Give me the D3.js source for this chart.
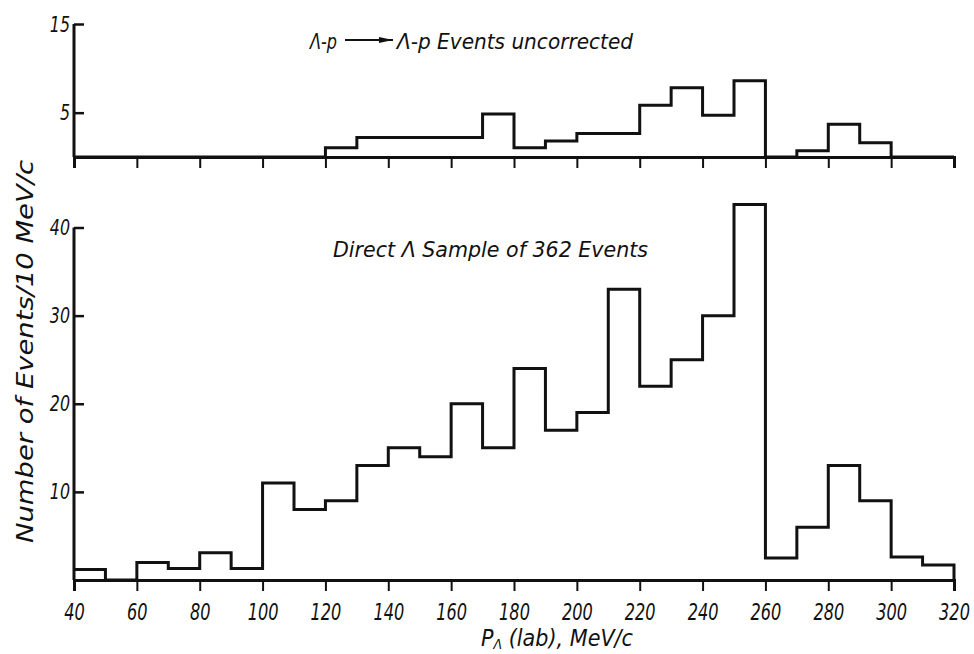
<!DOCTYPE html>
<html>
<head>
<meta http-equiv="Content-Type" content="text/html; charset=UTF-8">
<script src="https://d3js.org/d3.v7.min.js"></script>
<style>
  body { margin: 0; background: #fff; }
  svg text { font-family: "Liberation Sans Narrow", "DejaVu Sans Condensed", "Liberation Sans", sans-serif; font-style: italic; fill: #111; }
</style>
</head>
<body>
<div id="my_dataviz"></div>
<script>
// lower edge of every 10 MeV/c bin
var binStarts = [40, 50, 60, 70, 80, 90, 100, 110, 120, 130, 140, 150, 160, 170,
                 180, 190, 200, 210, 220, 230, 240, 250, 260, 270, 280, 290, 300, 310];
var binWidth = 10;
// Lambda-p -> Lambda-p events, uncorrected (upper panel)
var elasticCounts = [0, 0, 0, 0, 0, 0, 0, 0, 1.05, 2.2, 2.2, 2.2, 2.2, 4.85,
                     1.05, 1.8, 2.65, 2.65, 5.85, 7.8, 4.7, 8.6, 0, 0.7, 3.7, 1.6, 0, 0];
// direct Lambda sample, 362 events (lower panel)
var directCounts = [1.2, 0, 2, 1.3, 3.1, 1.3, 11, 8, 9, 13, 15, 14, 20, 15,
                    24, 17, 19, 33, 22, 25, 30, 42.6, 2.5, 6, 13, 9, 2.6, 1.7];
var xTicks = [40, 60, 80, 100, 120, 140, 160, 180, 200, 220, 240, 260, 280, 300, 320];
var topYTicks = [5, 15];
var bottomYTicks = [10, 20, 30, 40];

var width = 974, height = 654;
var svg = d3.select("#my_dataviz")
  .append("svg")
    .attr("width", width)
    .attr("height", height);

var x = d3.scaleLinear().domain([40, 320]).range([74, 954]);
var yTop = d3.scaleLinear().domain([0, 15]).range([157, 24]);
var yBot = d3.scaleLinear().domain([0, 40]).range([580, 227.5]);

var stroke = "#111", lw = 3;

// turn bins into step points
function steps(counts) {
  var pts = binStarts.map(function(b, i) { return [b, counts[i]]; });
  var last = binStarts.length - 1;
  pts.push([binStarts[last] + binWidth, counts[last]]);
  pts.push([binStarts[last] + binWidth, 0]);
  return pts;
}

function panel(y, counts, yTicks, showXLabels) {
  var g = svg.append("g");
  // x axis (baseline + downward ticks)
  var xAxis = g.append("g")
    .attr("transform", "translate(0," + y(0) + ")")
    .call(d3.axisBottom(x).tickValues(xTicks).tickSize(11).tickPadding(13)
      .tickFormat(showXLabels ? d3.format("d") : ""));
  xAxis.attr("font-family", null);
  xAxis.select(".domain").attr("stroke", stroke).attr("stroke-width", lw);
  xAxis.selectAll(".tick line").attr("stroke", stroke).attr("stroke-width", 2)
    .filter(function(d) { return d === 40; }).remove();
  // narrow lettering: squeeze horizontally around the tick
  xAxis.selectAll(".tick text").attr("font-size", 23).attr("fill", "#111")
    .attr("transform", "scale(0.78,1)");

  // y axis (ticks pointing inward)
  var yAxis = g.append("g")
    .attr("transform", "translate(" + x(40) + ",0)")
    .call(d3.axisRight(y).tickValues(yTicks).tickSize(10).tickSizeOuter(0).tickFormat(d3.format("d")));
  yAxis.attr("font-family", null);
  yAxis.select(".domain").attr("stroke", stroke).attr("stroke-width", lw)
    .attr("d", "M0," + y(0) + "V" + y(yTicks[yTicks.length - 1]));
  yAxis.selectAll(".tick line").attr("stroke", stroke).attr("stroke-width", 2.5);
  yAxis.selectAll(".tick text")
    .attr("x", -5).attr("text-anchor", "end").attr("font-size", 22).attr("fill", "#111")
    .attr("transform", "scale(0.8,1)");

  // histogram outline
  g.append("path")
    .datum(steps(counts))
    .attr("fill", "none")
    .attr("stroke", stroke)
    .attr("stroke-width", lw)
    .attr("stroke-linejoin", "miter")
    .attr("d", d3.line()
      .x(function(d) { return x(d[0]); })
      .y(function(d) { return y(d[1]); })
      .curve(d3.curveStepAfter));
}

panel(yTop, elasticCounts, topYTicks, false);
panel(yBot, directCounts, bottomYTicks, true);

// upper title with reaction arrow
svg.append("defs").append("marker")
  .attr("id", "head").attr("viewBox", "0 0 14 6")
  .attr("refX", 14).attr("refY", 3)
  .attr("markerWidth", 14).attr("markerHeight", 6)
  .attr("markerUnits", "userSpaceOnUse")
  .attr("orient", "auto")
  .append("path").attr("d", "M0,0L14,3L0,6Z").attr("fill", "#111");

svg.append("text").attr("x", 310).attr("y", 49).attr("font-size", 22)
  .attr("textLength", 27).attr("lengthAdjust", "spacingAndGlyphs").text("Λ-p");
svg.append("line").attr("x1", 345).attr("x2", 393).attr("y1", 40).attr("y2", 40)
  .attr("stroke", "#111").attr("stroke-width", 1.8).attr("marker-end", "url(#head)");
svg.append("text").attr("x", 397).attr("y", 49).attr("font-size", 22)
  .attr("textLength", 236).attr("lengthAdjust", "spacingAndGlyphs")
  .text("Λ-p Events uncorrected");

// lower title
svg.append("text").attr("x", 333).attr("y", 257).attr("font-size", 22)
  .attr("textLength", 315).attr("lengthAdjust", "spacingAndGlyphs")
  .text("Direct Λ Sample of 362 Events");

// x label
var xl = svg.append("text").attr("x", 481).attr("y", 646).attr("font-size", 23)
  .attr("textLength", 152).attr("lengthAdjust", "spacingAndGlyphs");
xl.append("tspan").text("P");
xl.append("tspan").attr("font-size", 14).attr("dy", 3).text("Λ");
xl.append("tspan").attr("dy", -3).text(" (lab), MeV/c");

// y label
svg.append("text")
  .attr("transform", "translate(33,543) rotate(-90)")
  .attr("font-size", 23)
  .attr("textLength", 383).attr("lengthAdjust", "spacingAndGlyphs")
  .text("Number of Events/10 MeV/c");
</script>
</body>
</html>
